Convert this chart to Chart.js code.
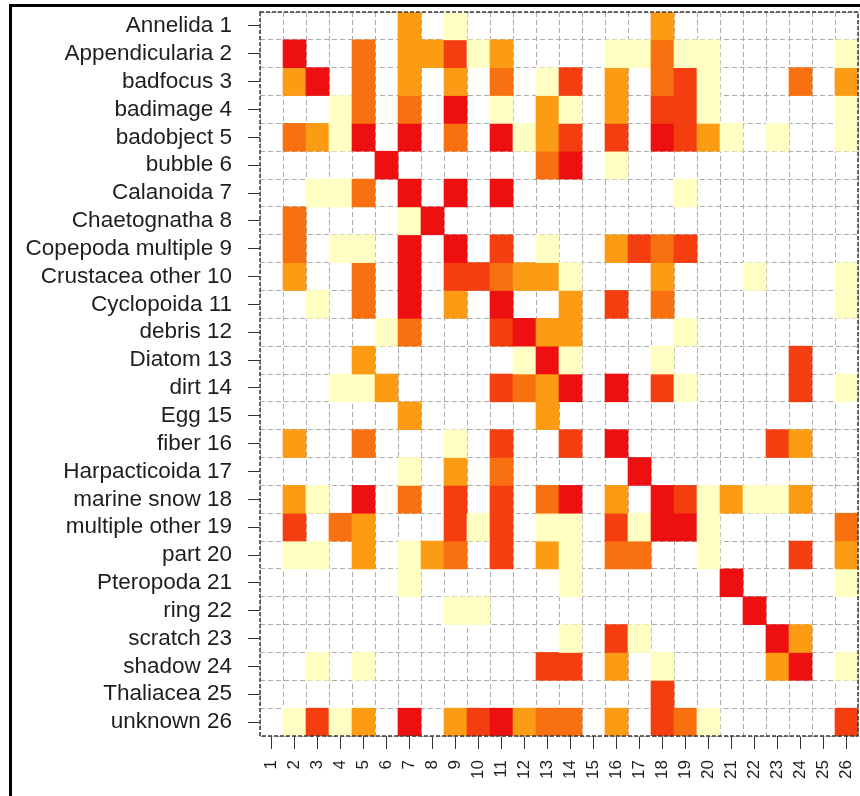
<!DOCTYPE html>
<html>
<head>
<meta charset="utf-8">
<title>Class confusion heatmap</title>
<script src="https://cdn.jsdelivr.net/npm/chart.js@4.4.1/dist/chart.umd.min.js"></script>
<style>
  html, body { margin: 0; padding: 0; background: #fff; }
  #wrap { position: relative; width: 860px; height: 796px; overflow: hidden; }
  #heatmap { position: absolute; left: 0; top: 0; }
  #frame-top { position: absolute; left: 9px; top: 4px; width: 851px; height: 3px; background: #000; }
  #frame-left { position: absolute; left: 9px; top: 4px; width: 3px; height: 792px; background: #000; }
</style>
</head>
<body>
<div id="wrap">
  <canvas id="heatmap" width="860" height="796"></canvas>
  <div id="frame-top"></div>
  <div id="frame-left"></div>
</div>
<script>
// Row labels, top to bottom
const rowLabels = [
    'Annelida 1', 'Appendicularia 2', 'badfocus 3', 'badimage 4', 'badobject 5',
    'bubble 6', 'Calanoida 7', 'Chaetognatha 8', 'Copepoda multiple 9', 'Crustacea other 10',
    'Cyclopoida 11', 'debris 12', 'Diatom 13', 'dirt 14', 'Egg 15', 'fiber 16',
    'Harpacticoida 17', 'marine snow 18', 'multiple other 19', 'part 20', 'Pteropoda 21',
    'ring 22', 'scratch 23', 'shadow 24', 'Thaliacea 25', 'unknown 26'
];

// Column tick labels
const colLabels = ['1','2','3','4','5','6','7','8','9','10','11','12','13',
                   '14','15','16','17','18','19','20','21','22','23','24','25','26'];

// Colour of each level (0 = empty cell)
const levelColors = [null, '#FFFFC4', '#FC9B14', '#F8700F', '#F43E10', '#EE1010'];

// Level of every cell, one row per class (cols 1..26)
const cellLevels = [
    [0,0,0,0,0,0,2,0,1,0,0,0,0,0,0,0,0,2,0,0,0,0,0,0,0,0], // Annelida
    [0,5,0,0,3,0,2,2,4,1,2,0,0,0,0,1,1,3,1,1,0,0,0,0,0,1], // Appendicularia
    [0,2,5,0,3,0,2,0,2,0,3,0,1,4,0,2,0,3,4,1,0,0,0,3,0,2], // badfocus
    [0,0,0,1,3,0,3,0,5,0,1,0,2,1,0,2,0,4,4,1,0,0,0,0,0,1], // badimage
    [0,3,2,1,5,0,5,0,3,0,5,1,2,4,0,4,0,5,4,2,1,0,1,0,0,1], // badobject
    [0,0,0,0,0,5,0,0,0,0,0,0,3,5,0,1,0,0,0,0,0,0,0,0,0,0], // bubble
    [0,0,1,1,3,0,5,0,5,0,5,0,0,0,0,0,0,0,1,0,0,0,0,0,0,0], // Calanoida
    [0,3,0,0,0,0,1,5,0,0,0,0,0,0,0,0,0,0,0,0,0,0,0,0,0,0], // Chaetognatha
    [0,3,0,1,1,0,5,0,5,0,4,0,1,0,0,2,4,3,4,0,0,0,0,0,0,0], // Copepoda multiple
    [0,2,0,0,3,0,5,0,4,4,3,2,2,1,0,0,0,2,0,0,0,1,0,0,0,1], // Crustacea other
    [0,0,1,0,3,0,5,0,2,0,5,0,0,2,0,4,0,3,0,0,0,0,0,0,0,1], // Cyclopoida
    [0,0,0,0,0,1,3,0,0,0,4,5,2,2,0,0,0,0,1,0,0,0,0,0,0,0], // debris
    [0,0,0,0,2,0,0,0,0,0,0,1,5,1,0,0,0,1,0,0,0,0,0,4,0,0], // Diatom
    [0,0,0,1,1,2,0,0,0,0,4,3,2,5,0,5,0,4,1,0,0,0,0,4,0,1], // dirt
    [0,0,0,0,0,0,2,0,0,0,0,0,2,0,0,0,0,0,0,0,0,0,0,0,0,0], // Egg
    [0,2,0,0,3,0,0,0,1,0,4,0,0,4,0,5,0,0,0,0,0,0,4,2,0,0], // fiber
    [0,0,0,0,0,0,1,0,2,0,3,0,0,0,0,0,5,0,0,0,0,0,0,0,0,0], // Harpacticoida
    [0,2,1,0,5,0,3,0,4,0,4,0,3,5,0,2,0,5,4,1,2,1,1,2,0,0], // marine snow
    [0,4,0,3,2,0,0,0,4,1,4,0,1,1,0,4,1,5,5,1,0,0,0,0,0,3], // multiple other
    [0,1,1,0,2,0,1,2,3,0,4,0,2,1,0,3,3,0,0,1,0,0,0,4,0,2], // part
    [0,0,0,0,0,0,1,0,0,0,0,0,0,1,0,0,0,0,0,0,5,0,0,0,0,1], // Pteropoda
    [0,0,0,0,0,0,0,0,1,1,0,0,0,0,0,0,0,0,0,0,0,5,0,0,0,0], // ring
    [0,0,0,0,0,0,0,0,0,0,0,0,0,1,0,4,1,0,0,0,0,0,5,2,0,0], // scratch
    [0,0,1,0,1,0,0,0,0,0,0,0,4,4,0,2,0,1,0,0,0,0,2,5,0,1], // shadow
    [0,0,0,0,0,0,0,0,0,0,0,0,0,0,0,0,0,4,0,0,0,0,0,0,0,0], // Thaliacea
    [0,1,4,1,2,0,5,0,2,4,5,2,3,3,0,2,0,4,3,1,0,0,0,0,0,4]  // unknown
];

const labelFont = 'Liberation Sans, Arial, sans-serif';

// One floating-bar dataset per row; each cell spans value r-0.5 .. r+0.5
const datasets = cellLevels.map((row, r) => ({
    label: rowLabels[r],
    data: row.map(level => level > 0 ? [r + 0.5, r + 1.5] : null),
    backgroundColor: row.map(level => levelColors[level] || 'rgba(0,0,0,0)'),
    borderWidth: 0,
    grouped: false,
    categoryPercentage: 1,
    barPercentage: 1
}));

// Cell boundaries used for the dashed grid
const boundaries = [];
for (let i = 0; i <= rowLabels.length; i++) boundaries.push(i + 0.5);

// Dashed dark box round the plot area
const plotFrame = {
    id: 'plotFrame',
    afterDraw(chart) {
        const { ctx, chartArea: a } = chart;
        ctx.save();
        ctx.strokeStyle = '#3a3a3a';
        ctx.lineWidth = 1.5;
        ctx.setLineDash([4, 2]);
        ctx.strokeRect(a.left, a.top, a.right - a.left, a.bottom - a.top);
        ctx.restore();
    }
};

// Stop label overhang from shrinking the plot area
function noPadding(scale) {
    scale.paddingTop = 0;
    scale.paddingBottom = 0;
    scale.paddingLeft = 0;
    scale.paddingRight = 0;
}

new Chart(document.getElementById('heatmap'), {
    type: 'bar',
    data: { labels: colLabels, datasets: datasets },
    options: {
        responsive: false,
        animation: false,
        layout: { padding: { top: 12, right: 2, left: 0, bottom: 0 } },
        plugins: { legend: { display: false }, tooltip: { enabled: false } },
        scales: {
            x: {
                type: 'category',
                position: 'bottom',
                offset: true,
                grid: { offset: false, drawOnChartArea: false, drawTicks: true, tickLength: 13, tickColor: '#333', tickWidth: 1 },
                border: { display: false },
                ticks: { autoSkip: false, minRotation: 90, maxRotation: 90, padding: 11, color: '#1e1e1e', font: { family: labelFont, size: 17 } },
                afterFit(scale) { scale.height = 60; noPadding(scale); }
            },
            xg: {
                type: 'category',
                position: 'top',
                offset: true,
                z: 1,
                grid: { offset: true, drawOnChartArea: true, drawTicks: false, color: '#ababab', lineWidth: 1 },
                border: { display: false, dash: [5, 3] },
                ticks: { display: false },
                afterFit(scale) { scale.height = 0; noPadding(scale); }
            },
            y: {
                type: 'linear',
                position: 'left',
                min: 0.5,
                max: 26.5,
                reverse: true,
                afterBuildTicks(scale) { scale.ticks = rowLabels.map((_, i) => ({ value: i + 1 })); },
                grid: { drawOnChartArea: false, drawTicks: true, tickLength: 12, tickColor: '#333', tickWidth: 1 },
                border: { display: false },
                ticks: {
                    autoSkip: false,
                    padding: 16,
                    color: '#1e1e1e',
                    font: { family: labelFont, size: 22.5 },
                    callback: value => rowLabels[value - 1]
                },
                afterFit(scale) { scale.width = 260; noPadding(scale); }
            },
            yg: {
                type: 'linear',
                position: 'right',
                min: 0.5,
                max: 26.5,
                reverse: true,
                z: 1,
                afterBuildTicks(scale) { scale.ticks = boundaries.map(v => ({ value: v })); },
                grid: { drawOnChartArea: true, drawTicks: false, color: '#ababab', lineWidth: 1 },
                border: { display: false, dash: [5, 3] },
                ticks: { display: false },
                afterFit(scale) { scale.width = 0; noPadding(scale); }
            }
        }
    },
    plugins: [plotFrame]
});
</script>
</body>
</html>
